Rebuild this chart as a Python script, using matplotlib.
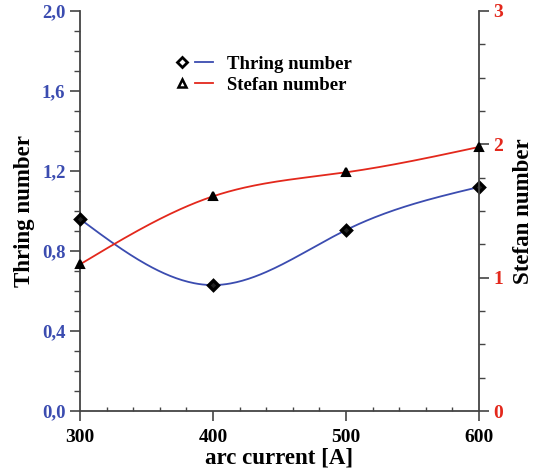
import numpy as np
import matplotlib
matplotlib.use("Agg")
import matplotlib.pyplot as plt
from matplotlib.ticker import MultipleLocator, FuncFormatter
from matplotlib.legend_handler import HandlerTuple
from matplotlib.lines import Line2D

current = [300, 400, 500, 600]
thring = [0.96, 0.63, 0.905, 1.12]
stefan = [1.10, 1.61, 1.79, 1.98]

blue = "#3b4cb0"
red = "#e3281c"
plt.rcParams["font.family"] = ["Liberation Serif", "DejaVu Serif"]
plt.rcParams["font.weight"] = "bold"


def natural_spline(x, y, n=200):
    # plain natural cubic spline, only used to draw the smooth line
    x = np.asarray(x, float)
    y = np.asarray(y, float)
    k = len(x)
    h = np.diff(x)
    A = np.zeros((k, k))
    b = np.zeros(k)
    A[0, 0] = A[-1, -1] = 1
    for i in range(1, k - 1):
        A[i, i - 1] = h[i - 1]
        A[i, i] = 2 * (h[i - 1] + h[i])
        A[i, i + 1] = h[i]
        b[i] = 6 * ((y[i + 1] - y[i]) / h[i] - (y[i] - y[i - 1]) / h[i - 1])
    M = np.linalg.solve(A, b)
    xs = np.linspace(x[0], x[-1], n)
    idx = np.clip(np.searchsorted(x, xs) - 1, 0, k - 2)
    x0, x1 = x[idx], x[idx + 1]
    hh = x1 - x0
    t1 = x1 - xs
    t0 = xs - x0
    ys = (M[idx] * t1**3 + M[idx + 1] * t0**3) / (6 * hh) \
        + (y[idx] / hh - M[idx] * hh / 6) * t1 \
        + (y[idx + 1] / hh - M[idx + 1] * hh / 6) * t0
    return xs, ys


fig = plt.figure(figsize=(5.37, 4.71), dpi=100)
ax = fig.add_axes([0.149, 0.127, 0.743, 0.85])
ax2 = ax.twinx()

xs, ys = natural_spline(current, thring)
ax.plot(xs, ys, color=blue, lw=1.3, zorder=2)
ax.plot(current, thring, "D", ms=5, mfc="#222222", mec="black", mew=2.4, clip_on=False, zorder=3)

xs2, ys2 = natural_spline(current, stefan)
ax2.plot(xs2, ys2, color=red, lw=1.3, zorder=2)
ax2.plot(current, stefan, "^", ms=6, mfc="black", mec="black", mew=1.5, clip_on=False, zorder=3)

ax.set_xlim(300, 600)
ax.set_ylim(0, 2.0)
ax2.set_ylim(0, 3)

ax.xaxis.set_major_locator(MultipleLocator(100))
ax.xaxis.set_minor_locator(MultipleLocator(20))
ax.yaxis.set_major_locator(MultipleLocator(0.4))
ax.yaxis.set_minor_locator(MultipleLocator(0.1))
ax.yaxis.set_major_formatter(FuncFormatter(lambda v, p: f"{v:.1f}".replace(".", ",")))
ax2.yaxis.set_major_locator(MultipleLocator(1))
ax2.yaxis.set_minor_locator(MultipleLocator(0.25))

for a in (ax, ax2):
    a.spines["top"].set_visible(False)
    for s in a.spines.values():
        s.set_color("#444444")
        s.set_linewidth(1.3)
    a.tick_params(which="major", length=7, width=1.2, color="#444444", direction="out")
    a.tick_params(which="minor", length=4, width=1.0, color="#444444", direction="out")
ax.tick_params(axis="x", which="minor", direction="in", length=3)
ax.tick_params(axis="x", labelsize=14, pad=6)
ax.tick_params(axis="y", labelsize=13.5, labelcolor=blue)
ax2.tick_params(axis="y", labelsize=14, labelcolor=red)
ax.spines["right"].set_visible(False)
ax2.spines["left"].set_visible(False)
ax2.spines["bottom"].set_visible(False)

ax.set_xlabel("arc current [A]", fontsize=16.5, fontweight="bold", labelpad=1)
ax.set_ylabel("Thring number", fontsize=16.5, fontweight="bold", labelpad=5)
ax2.set_ylabel("Stefan number", fontsize=16.5, fontweight="bold", labelpad=7)

h1 = (Line2D([], [], ls="none", marker="D", ms=5, mfc="white", mec="black", mew=2),
      Line2D([], [], color=blue, lw=1.3))
h2 = (Line2D([], [], ls="none", marker="^", ms=5.5, mfc="white", mec="black", mew=1.8),
      Line2D([], [], color=red, lw=1.3))
ax.legend([h1, h2], ["Thring number", "Stefan number"],
          handler_map={tuple: HandlerTuple(ndivide=None, pad=0.21)},
          loc="upper left", bbox_to_anchor=(0.192, 0.93), frameon=False,
          prop={"size": 13.5, "weight": "bold"}, handlelength=2.13,
          handletextpad=0.75, labelspacing=0.2)

fig.savefig("out.png", dpi=100)
